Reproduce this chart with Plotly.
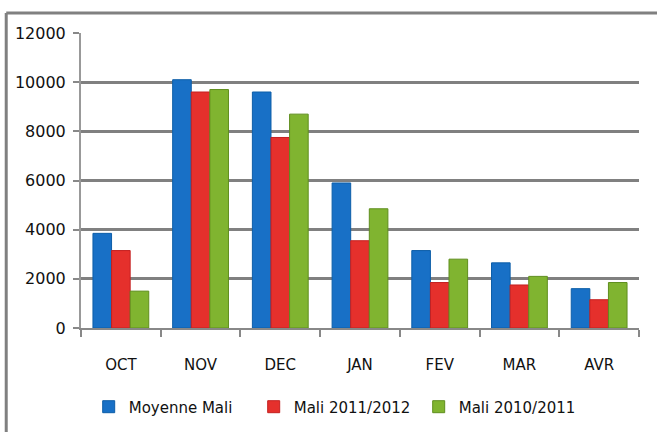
import plotly.graph_objects as go

categories = ["OCT", "NOV", "DEC", "JAN", "FEV", "MAR", "AVR"]
moyenne_mali = [3850, 10100, 9600, 5900, 3150, 2650, 1600]
mali_2011_2012 = [3150, 9600, 7750, 3550, 1850, 1750, 1150]
mali_2010_2011 = [1500, 9700, 8700, 4850, 2800, 2100, 1850]
series_names = ["Moyenne Mali", "Mali 2011/2012", "Mali 2010/2011"]
y_ticks = [0, 2000, 4000, 6000, 8000, 10000, 12000]

colors = ["#1870c6", "#e5302c", "#80b430"]
edge = ["#0d5ea8", "#c42020", "#5f8e1e"]

fig = go.Figure()
for name, vals, c, e in zip(series_names, [moyenne_mali, mali_2011_2012, mali_2010_2011], colors, edge):
    fig.add_trace(go.Bar(
        x=categories, y=vals, name=name,
        marker=dict(color=c, line=dict(color=e, width=1)),
    ))

fig.update_layout(
    width=657, height=432,
    margin=dict(l=81, r=18, t=33, b=104),
    paper_bgcolor="white", plot_bgcolor="white",
    barmode="group", bargap=0.3, bargroupgap=0,
    font=dict(family="DejaVu Sans", size=15, color="#111111"),
    showlegend=True,
    legend=dict(orientation="h", xref="container", yref="container",
                x=0.135, xanchor="left", y=0.058, yanchor="middle",
                font=dict(size=15), entrywidth=120, entrywidthmode="pixels",
                traceorder="normal"),
    xaxis=dict(showline=True, linecolor="#888888", linewidth=2,
               ticks="outside", tickcolor="#888888", ticklen=7, tickwidth=2,
               tickson="boundaries", showgrid=False, automargin=False,
               ticklabelstandoff=22, tickfont=dict(size=15)),
    yaxis=dict(range=[0, 12000], tickvals=y_ticks, tickformat="d",
               showline=True, linecolor="#999999", linewidth=2,
               ticks="outside", tickcolor="#888888", ticklen=6, tickwidth=2,
               showgrid=True, gridcolor="#808080", gridwidth=3,
               ticklabelstandoff=4,
               zeroline=False, automargin=False, tickfont=dict(size=16)),
    shapes=[
        dict(type="line", xref="paper", yref="paper", x0=-0.134, x1=1.1, y0=1.068, y1=1.068,
             line=dict(color="#808080", width=3)),
        dict(type="line", xref="paper", yref="paper", x0=-0.134, x1=-0.134, y0=1.068, y1=-0.4,
             line=dict(color="#808080", width=3)),
    ],
)

fig.write_html("out.html", config={"displayModeBar": False},
               post_script="document.body.style.margin='0';")
